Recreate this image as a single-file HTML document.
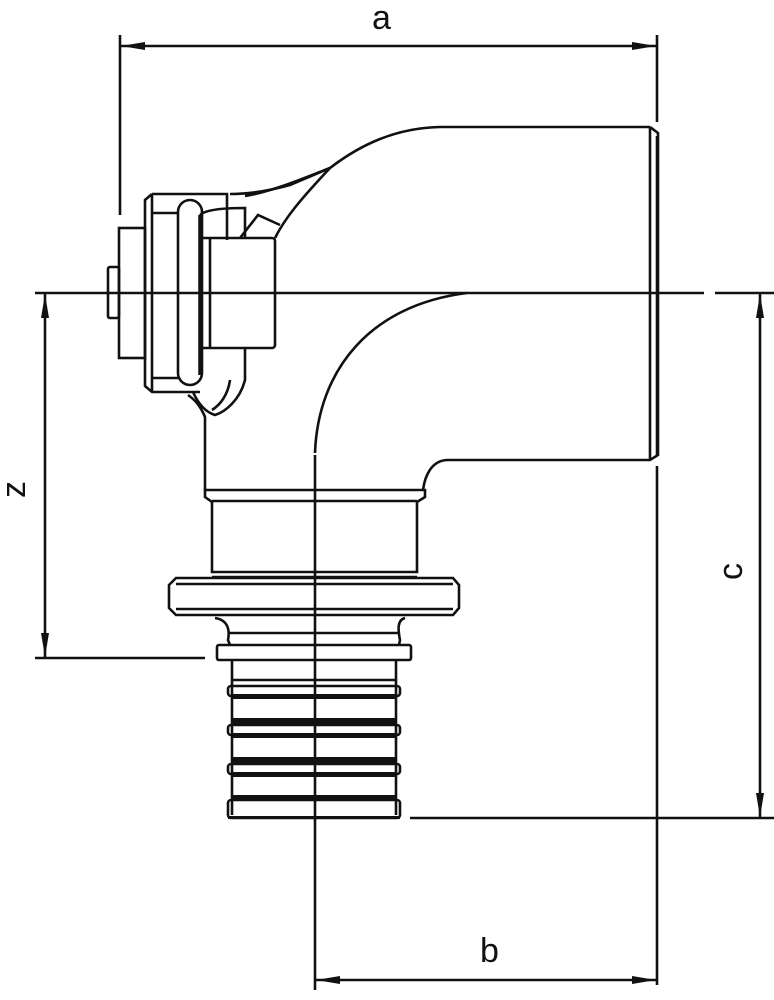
<!DOCTYPE html>
<html><head><style>
html,body{margin:0;padding:0;background:#fff;width:774px;height:1000px;overflow:hidden}
svg{display:block}
text{font-family:"Liberation Sans",sans-serif;font-size:34px;fill:#111}
</style></head><body>
<svg width="774" height="1000" viewBox="0 0 774 1000" xmlns="http://www.w3.org/2000/svg">
<defs>
<marker id="arr" viewBox="0 0 24 10" refX="24" refY="5" markerWidth="24" markerHeight="10" orient="auto-start-reverse" markerUnits="userSpaceOnUse">
<path d="M0,1 L24,5 L0,9 z" fill="#111"/></marker>
</defs>
<g stroke="#111" stroke-width="2.6" fill="none">
<line x1="120" y1="35" x2="120" y2="215"/>
<line x1="657" y1="35" x2="657" y2="122"/>
<line x1="657" y1="136" x2="657" y2="455"/>
<line x1="657" y1="466" x2="657" y2="985"/>
<line x1="121" y1="46" x2="656" y2="46" marker-start="url(#arr)" marker-end="url(#arr)"/>
<line x1="35" y1="293" x2="704" y2="293"/>
<line x1="715" y1="293" x2="774" y2="293"/>
<line x1="760" y1="294" x2="760" y2="817" marker-start="url(#arr)" marker-end="url(#arr)"/>
<line x1="410" y1="818" x2="774" y2="818"/>
<line x1="45" y1="294" x2="45" y2="657" marker-start="url(#arr)" marker-end="url(#arr)"/>
<line x1="35" y1="658" x2="205" y2="658"/>
<line x1="316" y1="980" x2="656" y2="980" marker-start="url(#arr)" marker-end="url(#arr)"/>
<line x1="315" y1="455" x2="315" y2="990"/>

<path d="M650,127 L440,127 C395,128 360,145 330,168 L290,185 C265,192 245,194 230,194"/>
<path d="M330,168 C300,200 285,218 275,238"/>
<path d="M330,168 C300,180 270,192 245,196"/>
<path d="M650,127 L658,133 L658,455 L650,460 L448,460 C432,460 425,475 423,490"/>
<line x1="650" y1="127" x2="650" y2="460"/>
<path d="M467,293 C370,305 318,370 315,453"/>
<path d="M205,490 L205,417 C200,405 195,400 188,395"/>
<path d="M245,348 L245,380 C240,400 225,412 215,415 C205,412 198,403 193,392"/>
<path d="M230,380 C228,395 220,405 212,410"/>
<path d="M240,238 L258,215 L280,225"/>
<path d="M152,194 L227,194 L227,240"/>
<path d="M152,194 L145,200 L145,386 L152,392 L200,392"/>
<line x1="152" y1="194" x2="152" y2="392"/>
<line x1="152" y1="213" x2="178" y2="213"/>
<line x1="152" y1="378" x2="178" y2="378"/>
<rect x="178" y="200" width="24" height="185" rx="12"/>
<line x1="200" y1="215" x2="200" y2="375" stroke-width="3.5"/>
<path d="M200,215 C205,210 220,208 245,208 L245,238"/>
<rect x="119" y="228" width="26" height="130"/>
<rect x="108" y="267" width="11" height="51" rx="2"/>
<rect x="200" y="238" width="75" height="110" rx="3"/>
<line x1="210" y1="238" x2="210" y2="348"/>

<path d="M205,490 L425,490 L425,497 L417,502 L417,572 L212,572 L212,502 L205,497 Z"/>
<line x1="212" y1="501" x2="417" y2="501"/>
<line x1="212" y1="577" x2="417" y2="577"/>
<path d="M176,578 L453,578 L459,585 L459,608 L453,615 L176,615 L169,608 L169,585 Z"/>
<line x1="176" y1="584" x2="453" y2="584"/>
<line x1="176" y1="609" x2="453" y2="609"/>
<path d="M215,618 C228,620 230,630 228,640 L230,645 M405,618 C397,620 398,630 400,640 L399,645"/>
<line x1="228" y1="633" x2="400" y2="633"/>
<rect x="217" y="645" width="194" height="15" rx="2"/>
<line x1="232" y1="660" x2="232" y2="815"/>
<line x1="396" y1="660" x2="396" y2="815"/>
<line x1="232" y1="680" x2="396" y2="680"/>
<rect x="228" y="686" width="172" height="10" rx="3"/>
<rect x="228" y="725" width="172" height="10" rx="3"/>
<rect x="228" y="764" width="172" height="10" rx="3"/>
<rect x="228" y="800" width="172" height="18" rx="3"/>
</g>
<g fill="#111">
<rect x="232" y="694" width="164" height="5"/>
<rect x="232" y="718" width="164" height="6"/>
<rect x="232" y="733" width="164" height="5"/>
<rect x="232" y="757" width="164" height="6"/>
<rect x="232" y="772" width="164" height="5"/>
<rect x="232" y="795" width="164" height="6"/>
<rect x="228" y="816" width="172" height="3"/>
</g>
<text x="372" y="29">a</text>
<text x="480" y="962">b</text>
<text transform="translate(742,580) rotate(-90)">c</text>
<text transform="translate(25,498) rotate(-90)">z</text>
</svg>
</body></html>
